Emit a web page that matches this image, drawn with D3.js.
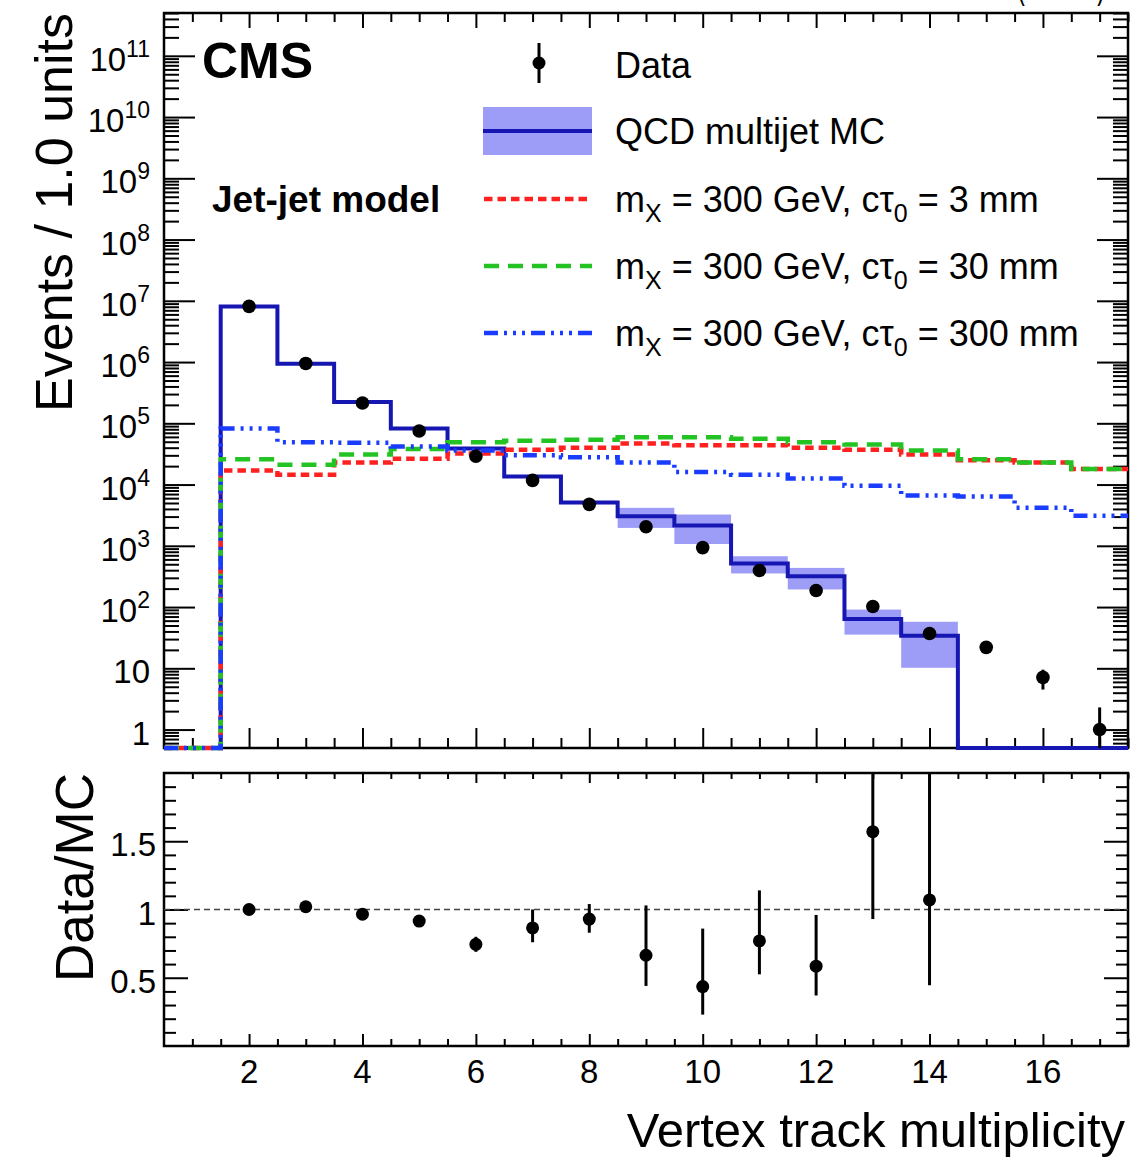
<!DOCTYPE html>
<html>
<head>
<meta charset="utf-8">
<script src="https://cdn.jsdelivr.net/npm/d3@7"></script>
<style>
  body { margin: 0; background: #fff; }
  svg text { font-family: "Liberation Sans", Arial, Helvetica, sans-serif; fill: #000; }
</style>
</head>
<body>
<svg id="chart" width="1146" height="1160"></svg>
<script>
// bins of vertex track multiplicity (width 1.0)
const bins = [1, 2, 3, 4, 5, 6, 7, 8, 9, 10, 11, 12, 13, 14, 15, 16, 17]

// observed events per bin (bin 1 empty)
const dataCounts = [null, 8.1e6, 9.5e5, 2.15e5, 7.5e4, 2.9e4, 1.17e4, 4.75e3, 2.05e3, 935, 395, 186, 102, 37, 22, 7.1, 1.0]
const dataErrLo = [null, 2.8e3, 980, 460, 270, 170, 108, 69, 45, 31, 20, 14, 10, 6, 4.7, 2.6, 1.0]
const dataErrHi = [null, 2.8e3, 980, 460, 270, 170, 108, 69, 45, 31, 20, 14, 10, 6, 4.7, 2.4, 1.3]

// QCD multijet MC and its uncertainty band
const qcdMC = [0, 8.1e6, 9.35e5, 2.23e5, 8.2e4, 3.87e4, 1.35e4, 5.1e3, 3.05e3, 2.14e3, 513, 318, 64, 34, 0, 0, 0]
const qcdLo = [0, 7.9e6, 9.1e5, 2.17e5, 7.9e4, 3.7e4, 1.28e4, 4.8e3, 1.96e3, 1.07e3, 354, 194, 35.5, 10.2, 0, 0, 0]
const qcdHi = [0, 8.3e6, 9.6e5, 2.29e5, 8.5e4, 4.05e4, 1.42e4, 5.4e3, 4.17e3, 3.24e3, 676, 436, 91, 57.5, 0, 0, 0]

// signal, m_X = 300 GeV
const sig3mm = [0, 1.7e4, 1.45e4, 2.3e4, 2.65e4, 3.2e4, 3.7e4, 4.0e4, 4.7e4, 4.4e4, 4.4e4, 4.0e4, 3.7e4, 3.1e4, 2.5e4, 2.3e4, 1.8e4]
const sig30mm = [0, 2.6e4, 2.1e4, 3.1e4, 3.8e4, 4.9e4, 5.2e4, 5.4e4, 5.9e4, 5.9e4, 5.6e4, 4.9e4, 4.5e4, 3.6e4, 2.6e4, 2.3e4, 1.8e4]
const sig300mm = [0, 8.2e4, 4.9e4, 4.8e4, 4.2e4, 3.6e4, 3.0e4, 2.8e4, 2.3e4, 1.6e4, 1.45e4, 1.26e4, 9.6e3, 6.6e3, 6.4e3, 4.2e3, 3.1e3]

// data / MC ratio
const ratioBins = [2, 3, 4, 5, 6, 7, 8, 9, 10, 11, 12, 13, 14]
const ratioVals = [1.00, 1.02, 0.965, 0.915, 0.745, 0.865, 0.93, 0.665, 0.435, 0.77, 0.585, 1.57, 1.07]
const ratioLo = [0.99, 1.01, 0.955, 0.895, 0.69, 0.76, 0.83, 0.44, 0.23, 0.525, 0.37, 0.93, 0.445]
const ratioHi = [1.01, 1.03, 0.975, 0.94, 0.80, 1.00, 1.04, 1.03, 0.86, 1.14, 0.96, 2.5, 2.5]

// axis ticks
const xMajor = [2, 4, 6, 8, 10, 12, 14, 16]
const xMinor = d3.range(1, 17.6, 0.5).filter(v => xMajor.indexOf(v) < 0)
const logExps = [0, 1, 2, 3, 4, 5, 6, 7, 8, 9, 10, 11]
const ratioMajor = [0.5, 1, 1.5]
const ratioLabels = ['0.5', '1', '1.5']

const seriesLabels = {
  data: 'Data',
  qcd: 'QCD multijet MC',
  s3: ' = 3 mm',
  s30: ' = 30 mm',
  s300: ' = 300 mm'
}

// ---------------------------------------------------------------
const L = 164, R = 1128
const top1 = 13, bot1 = 748
const top2 = 773, bot2 = 1046
const yMin = 0.5

const colMC = '#1616b2'
const colBand = '#9d9df8'
const signals = [
  { vals: sig3mm, color: '#ff2020', dash: '8.5,5', label: seriesLabels.s3 },
  { vals: sig30mm, color: '#22c322', dash: '15,9', label: seriesLabels.s30 },
  { vals: sig300mm, color: '#1a3cff', dash: '14,6,3,6,3,6,3,6', label: seriesLabels.s300 }
]

const svg = d3.select('#chart')

const x = d3.scaleLinear().domain([0.5, 17.5]).range([L, R])
const y = d3.scaleLog().domain([yMin, 5e11]).range([bot1, top1])
const yr = d3.scaleLinear().domain([0, 2]).range([bot2, top2])

const Y = v => y(Math.max(v, yMin))

// tick marks only; d3 axis with negative size points them inward
function tickLayer (axis, values, size, tx, ty) {
  const g = svg.append('g')
    .attr('transform', 'translate(' + tx + ',' + ty + ')')
    .call(axis.tickValues(values).tickSize(size).tickSizeOuter(0).tickFormat(''))
  g.select('.domain').remove()
  g.selectAll('line').attr('stroke', '#000').attr('stroke-width', 2)
  return g
}

// log minor ticks 2..9 x 10^k inside the domain
const logMinor = []
for (let k = -1; k <= 11; k++) {
  for (let n = 2; n <= 9; n++) {
    const v = n * Math.pow(10, k)
    if (v >= yMin && v <= 5e11) logMinor.push(v)
  }
}
const logMajor = logExps.map(k => Math.pow(10, k))
const ratioMinor = d3.range(1, 20).map(i => i / 10).filter(v => ratioMajor.indexOf(v) < 0)

// ---- top panel ticks
tickLayer(d3.axisBottom(x), xMajor, -20, 0, bot1)
tickLayer(d3.axisBottom(x), xMinor, -10, 0, bot1)
tickLayer(d3.axisTop(x), xMajor, -15, 0, top1)
tickLayer(d3.axisTop(x), xMinor, -9, 0, top1)
tickLayer(d3.axisLeft(y), logMajor, -31, L, 0)
tickLayer(d3.axisLeft(y), logMinor, -15, L, 0)
tickLayer(d3.axisRight(y), logMajor, -31, R, 0)
tickLayer(d3.axisRight(y), logMinor, -15, R, 0)

// ---- ratio panel ticks
tickLayer(d3.axisBottom(x), xMajor, -12, 0, bot2)
tickLayer(d3.axisBottom(x), xMinor, -7, 0, bot2)
tickLayer(d3.axisTop(x), xMajor, -10, 0, top2)
tickLayer(d3.axisTop(x), xMinor, -6, 0, top2)
tickLayer(d3.axisLeft(yr), ratioMajor, -24, L, 0)
tickLayer(d3.axisLeft(yr), ratioMinor, -12, L, 0)
tickLayer(d3.axisRight(yr), ratioMajor, -24, R, 0)
tickLayer(d3.axisRight(yr), ratioMinor, -12, R, 0)

// frames
svg.append('rect').attr('x', L).attr('y', top1).attr('width', R - L).attr('height', bot1 - top1)
  .attr('fill', 'none').attr('stroke', '#000').attr('stroke-width', 2.5)
svg.append('rect').attr('x', L).attr('y', top2).attr('width', R - L).attr('height', bot2 - top2)
  .attr('fill', 'none').attr('stroke', '#000').attr('stroke-width', 2.5)

// ---- tick labels
const yLab = svg.append('g').selectAll('text').data(logExps).join('text')
  .attr('x', 150)
  .attr('y', k => y(Math.pow(10, k)) + 15)
  .attr('text-anchor', 'end')
  .attr('font-size', 33)
yLab.append('tspan').text(k => k === 0 ? '1' : '10')
yLab.filter(k => k >= 2).append('tspan').attr('font-size', 23).attr('dy', -14).text(k => k)

svg.append('g').selectAll('text').data(ratioMajor).join('text')
  .attr('x', 156)
  .attr('y', v => yr(v) + 15)
  .attr('text-anchor', 'end')
  .attr('font-size', 33)
  .text((v, i) => ratioLabels[i])

svg.append('g').selectAll('text').data(xMajor).join('text')
  .attr('x', v => x(v))
  .attr('y', 1083)
  .attr('text-anchor', 'middle')
  .attr('font-size', 33)
  .text(v => v)

// ---- axis titles
svg.append('text')
  .attr('transform', 'translate(72,' + top1 + ') rotate(-90)')
  .attr('text-anchor', 'end').attr('font-size', 52)
  .text('Events / 1.0 units')
svg.append('text')
  .attr('transform', 'translate(93,' + top2 + ') rotate(-90)')
  .attr('text-anchor', 'end').attr('font-size', 53)
  .text('Data/MC')
svg.append('text')
  .attr('x', 1125).attr('y', 1147)
  .attr('text-anchor', 'end').attr('font-size', 49)
  .text('Vertex track multiplicity')

// luminosity label, cut off by the top of the picture
svg.append('text')
  .attr('x', 1105).attr('y', -2)
  .attr('text-anchor', 'end').attr('font-size', 40)
  .attr('textLength', 88).attr('lengthAdjust', 'spacingAndGlyphs')
  .text('(13 TeV)')

svg.append('text').attr('x', 202).attr('y', 78)
  .attr('font-size', 50).attr('font-weight', 'bold').text('CMS')
svg.append('text').attr('x', 212).attr('y', 212)
  .attr('font-size', 37).attr('font-weight', 'bold').text('Jet-jet model')

// ---- histograms
const stepPts = vals => bins.flatMap((b, i) => [[b - 0.5, vals[i]], [b + 0.5, vals[i]]])
const step = d3.line().x(d => x(d[0])).y(d => Y(d[1]))

// MC uncertainty band
svg.append('g').selectAll('rect').data(bins.filter((b, i) => qcdHi[i] > 0)).join('rect')
  .attr('x', b => x(b - 0.5))
  .attr('width', b => x(b + 0.5) - x(b - 0.5))
  .attr('y', b => Y(qcdHi[b - 1]))
  .attr('height', b => Y(qcdLo[b - 1]) - Y(qcdHi[b - 1]))
  .attr('fill', colBand)

svg.append('path')
  .attr('d', step(stepPts(qcdMC)))
  .attr('fill', 'none').attr('stroke', colMC).attr('stroke-width', 4)

signals.forEach(s => {
  svg.append('path')
    .attr('d', step(stepPts(s.vals)))
    .attr('fill', 'none').attr('stroke', s.color).attr('stroke-width', 4.5)
    .attr('stroke-dasharray', s.dash)
})

// data points
const dataBins = bins.filter((b, i) => dataCounts[i] !== null)
const gData = svg.append('g')
gData.selectAll('line').data(dataBins).join('line')
  .attr('x1', b => x(b)).attr('x2', b => x(b))
  .attr('y1', b => Y(dataCounts[b - 1] + dataErrHi[b - 1]))
  .attr('y2', b => Y(dataCounts[b - 1] - dataErrLo[b - 1]))
  .attr('stroke', '#000').attr('stroke-width', 3)
gData.selectAll('circle').data(dataBins).join('circle')
  .attr('cx', b => x(b)).attr('cy', b => Y(dataCounts[b - 1]))
  .attr('r', 6.8).attr('fill', '#000')

// ---- ratio panel
svg.append('line')
  .attr('x1', L).attr('x2', R).attr('y1', yr(1)).attr('y2', yr(1))
  .attr('stroke', '#444').attr('stroke-width', 1.6).attr('stroke-dasharray', '6,4')

svg.append('clipPath').attr('id', 'ratioClip')
  .append('rect').attr('x', L).attr('y', top2).attr('width', R - L).attr('height', bot2 - top2)

const gRatio = svg.append('g').attr('clip-path', 'url(#ratioClip)')
gRatio.selectAll('line').data(ratioBins).join('line')
  .attr('x1', b => x(b)).attr('x2', b => x(b))
  .attr('y1', (b, i) => yr(ratioHi[i]))
  .attr('y2', (b, i) => yr(ratioLo[i]))
  .attr('stroke', '#000').attr('stroke-width', 3)
gRatio.selectAll('circle').data(ratioBins).join('circle')
  .attr('cx', b => x(b)).attr('cy', (b, i) => yr(ratioVals[i]))
  .attr('r', 6.5).attr('fill', '#000')

// ---- legend
const leg = svg.append('g')
leg.append('line').attr('x1', 539).attr('x2', 539).attr('y1', 43).attr('y2', 83)
  .attr('stroke', '#000').attr('stroke-width', 3)
leg.append('circle').attr('cx', 539).attr('cy', 63).attr('r', 6.5).attr('fill', '#000')
leg.append('text').attr('x', 615).attr('y', 78).attr('font-size', 36).text(seriesLabels.data)

leg.append('rect').attr('x', 483).attr('y', 107).attr('width', 109).attr('height', 48).attr('fill', colBand)
leg.append('line').attr('x1', 483).attr('x2', 592).attr('y1', 131).attr('y2', 131)
  .attr('stroke', colMC).attr('stroke-width', 4)
leg.append('text').attr('x', 615).attr('y', 144).attr('font-size', 36).text(seriesLabels.qcd)

const legY = [199, 266, 333]
signals.forEach((s, i) => {
  leg.append('line').attr('x1', 484).attr('x2', 592).attr('y1', legY[i]).attr('y2', legY[i])
    .attr('stroke', s.color).attr('stroke-width', 4.5).attr('stroke-dasharray', s.dash)
  const t = leg.append('text').attr('x', 615).attr('y', legY[i] + 13).attr('font-size', 36)
  t.append('tspan').text('m')
  t.append('tspan').attr('font-size', 25).attr('dy', 10).text('X')
  t.append('tspan').attr('dy', -10).text(' = 300 GeV, cτ')
  t.append('tspan').attr('font-size', 25).attr('dy', 10).text('0')
  t.append('tspan').attr('dy', -10).text(s.label)
})
</script>
</body>
</html>
